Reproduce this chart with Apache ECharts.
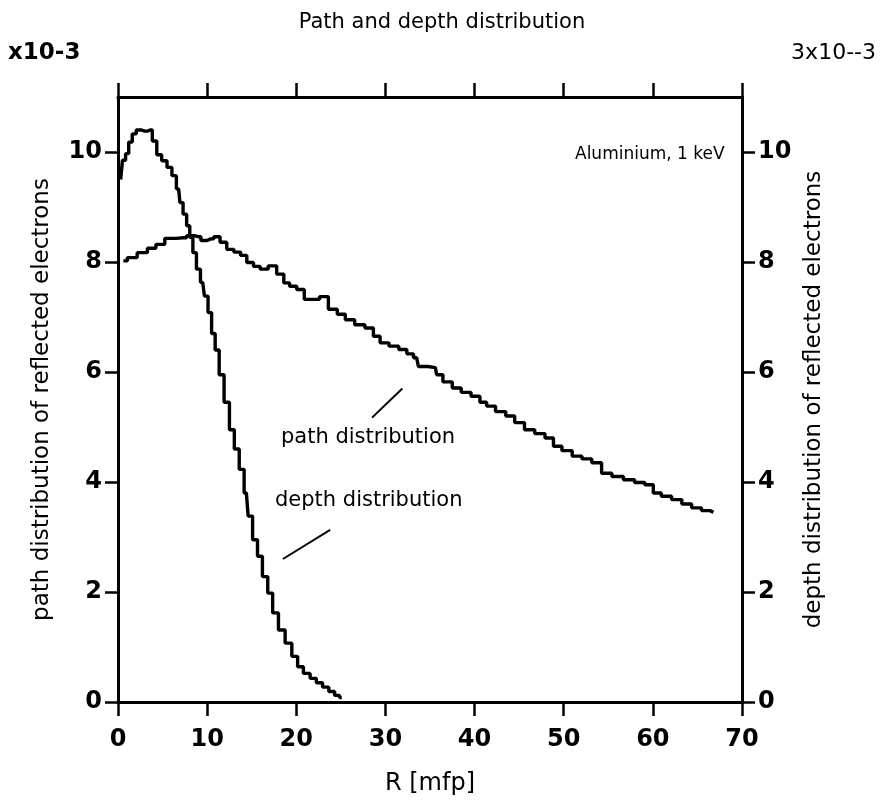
<!DOCTYPE html>
<html><head><meta charset="utf-8">
<script src="https://cdn.jsdelivr.net/npm/echarts@6/dist/echarts.min.js"></script>
<style>html,body{margin:0;padding:0;background:#fff}#c{width:884px;height:807px}</style>
</head><body><div id="c"></div>
<script>
// ---- data ----
const pathX = [0.6,1.5,2.8,3.8,4.7,5.8,7.3,8.1,9.0,9.6,10.4,11.1,11.8,12.6,13.4,14.1,14.8,15.6,16.3,17.4,18.2,19.0,19.5,20.6,21.2,22.2,23.0,24.2,25.0,26.0,27.1,28.3,29.0,29.8,31.0,32.0,32.8,33.5,33.9,35.6,35.9,37.0,38.0,39.0,40.2,41.0,41.7,43.0,44.0,45.0,46.2,47.3,48.5,49.2,50.4,51.5,52.6,53.7,54.8,56.0,57.4,58.5,59.7,60.4,61.5,62.7,63.8,64.9,66.0,66.8];
const pathY = [8.02,8.08,8.17,8.25,8.32,8.43,8.44,8.48,8.46,8.39,8.42,8.46,8.36,8.23,8.18,8.12,7.99,7.92,7.87,7.93,7.78,7.62,7.56,7.50,7.32,7.32,7.37,7.14,7.05,6.95,6.86,6.80,6.65,6.53,6.47,6.41,6.33,6.26,6.10,6.08,5.95,5.82,5.71,5.63,5.56,5.45,5.38,5.28,5.20,5.08,4.95,4.88,4.80,4.65,4.57,4.47,4.42,4.35,4.16,4.10,4.04,3.99,3.95,3.80,3.74,3.68,3.60,3.53,3.48,3.45];
const depthX = [0.3,0.7,1.0,1.4,1.8,2.3,3.0,3.6,4.1,4.6,5.2,5.8,6.3,6.8,7.1,7.5,7.9,8.2,8.6,9.0,9.5,9.9,10.3,10.7,11.1,11.6,12.2,12.8,13.3,13.9,14.4,14.8,15.4,15.9,16.5,17.1,17.6,18.4,19.1,19.9,20.4,21.2,21.9,22.6,23.3,24.0,24.6,25.1];
const depthY = [9.5,9.85,9.97,10.18,10.33,10.40,10.38,10.40,10.20,9.95,9.84,9.72,9.57,9.33,9.08,8.87,8.66,8.45,8.17,7.87,7.63,7.38,7.08,6.70,6.40,5.95,5.45,4.95,4.60,4.23,3.80,3.38,2.95,2.65,2.28,1.98,1.62,1.31,1.07,0.83,0.64,0.52,0.43,0.35,0.27,0.19,0.12,0.08];
const xTicks = [0,10,20,30,40,50,60,70];
const yTicks = [0,2,4,6,8,10];
// leader lines of the annotations (data coordinates)
const pathLeader = [[28.5,5.17],[31.9,5.70]];
const depthLeader = [[18.5,2.60],[23.8,3.13]];
const titleText = 'Path and depth distribution';
const leftScale = 'x10-3';
const rightScale = '3x10--3';
const leftName = 'path distribution of reflected electrons';
const rightName = 'depth distribution of reflected electrons';
const xName = 'R [mfp]';
const noteText = 'Aluminium, 1 keV';
const pathLabel = 'path distribution';
const depthLabel = 'depth distribution';

const FONT = 'DejaVu Sans';
const zip = (a,b) => a.map((v,i)=>[v,b[i]]);
const chart = echarts.init(document.getElementById('c'), null, {renderer:'canvas'});

const axisLine = {show:true, onZero:false, lineStyle:{color:'#000', width:3}};
function xAx(pos, showLabel){
  return {type:'value', position:pos, min:0, max:70, interval:10,
    axisLine:axisLine,
    axisTick:{show:true, inside:false, length:14, customValues:xTicks, lineStyle:{color:'#000', width:2.5}},
    axisLabel:{show:showLabel, color:'#000', fontSize:24, fontWeight:'bold', fontFamily:FONT, margin:26, customValues:xTicks},
    splitLine:{show:false},
    name: showLabel ? xName : '', nameLocation:'middle', nameGap:70,
    nameTextStyle:{color:'#000', fontSize:24, fontFamily:FONT}};
}
function yAx(pos, name, gap){
  return {type:'value', position:pos, min:0, max:11, interval:2,
    axisLine:axisLine,
    axisTick:{show:true, inside:false, length:13, customValues:yTicks, lineStyle:{color:'#000', width:2.5}},
    axisLabel:{color:'#000', fontSize:24, fontWeight:'bold', fontFamily:FONT, margin:16, customValues:yTicks},
    splitLine:{show:false},
    name:name, nameLocation:'middle', nameRotate:90, nameGap:gap,
    nameTextStyle:{color:'#000', fontSize:23, fontFamily:FONT}};
}

chart.setOption({
  backgroundColor:'#fff',
  animation:false,
  grid:{left:118, right:142, top:97, bottom:105, containLabel:false},
  xAxis:[xAx('bottom', true), xAx('top', false)],
  yAxis:[yAx('left', leftName, 64), yAx('right', rightName, 60)],
  graphic:[
    {type:'text', left:'center', top:12, style:{text:titleText, fill:'#000', font:'21px "DejaVu Sans"'}},
    {type:'text', left:8, top:42, style:{text:leftScale, fill:'#000', font:'bold 23px "DejaVu Sans"'}},
    {type:'text', right:8, top:42, style:{text:rightScale, fill:'#000', font:'22px "DejaVu Sans"'}},
    {type:'text', left:575, top:146, style:{text:noteText, fill:'#000', font:'17px "DejaVu Sans"'}},
    {type:'text', left:281, top:427, style:{text:pathLabel, fill:'#000', font:'21px "DejaVu Sans"'}},
    {type:'text', left:275, top:490, style:{text:depthLabel, fill:'#000', font:'21px "DejaVu Sans"'}}
  ],
  series:[
    {type:'line', name:'path', xAxisIndex:0, yAxisIndex:0, step:'middle', showSymbol:false,
     data:zip(pathX,pathY), lineStyle:{color:'#000', width:3.4}},
    {type:'line', name:'depth', xAxisIndex:0, yAxisIndex:1, step:'middle', showSymbol:false,
     data:zip(depthX,depthY), lineStyle:{color:'#000', width:3.4}},
    {type:'line', xAxisIndex:0, yAxisIndex:0, showSymbol:false, data:pathLeader, lineStyle:{color:'#000', width:2}},
    {type:'line', xAxisIndex:0, yAxisIndex:0, showSymbol:false, data:depthLeader, lineStyle:{color:'#000', width:2}}
  ]
});
</script></body></html>
